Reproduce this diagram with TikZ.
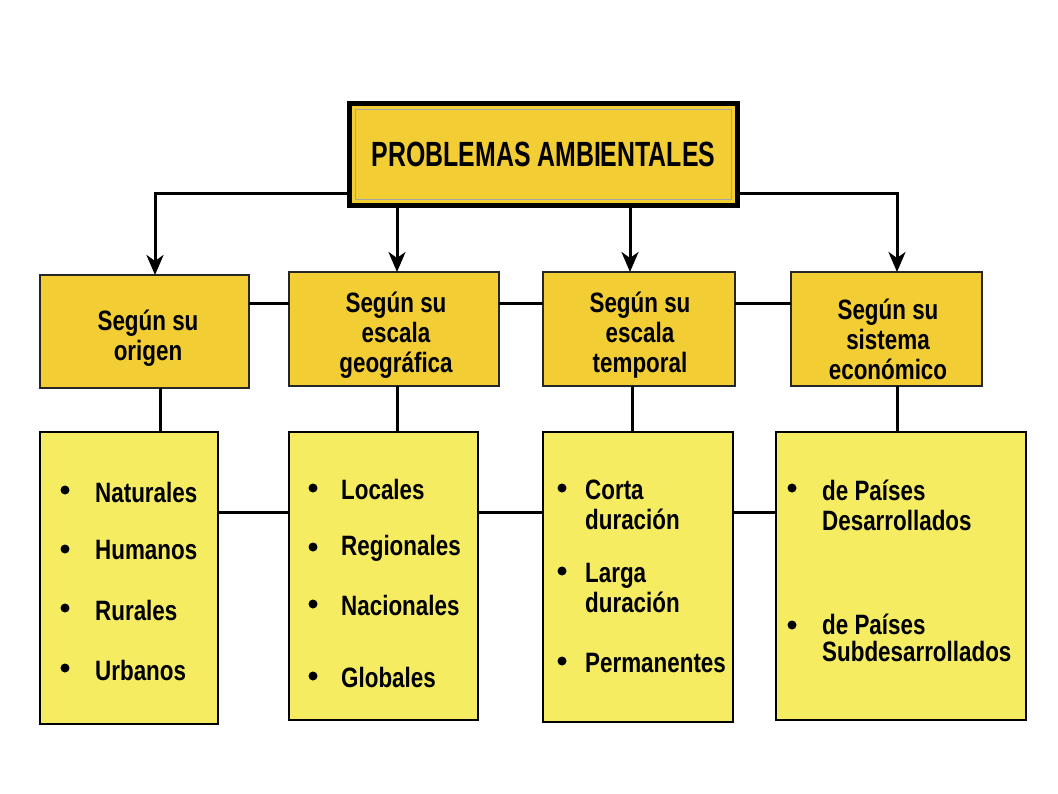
\documentclass[tikz,border=0pt]{standalone}
\usepackage{fontspec}
\setmainfont{Liberation Sans}[FakeStretch=0.8]
\newfontfamily\topfont{Liberation Sans}[FakeStretch=0.71]
\usetikzlibrary{arrows.meta,calc}
\definecolor{gold}{RGB}{242,205,52}
\definecolor{pale}{RGB}{245,236,98}
\begin{document}
\begin{tikzpicture}[x=1pt,y=-1pt,
  topbox/.style={draw=black,line width=5pt,fill=gold,minimum width=388pt,minimum height=102pt,inner sep=0pt,outer sep=0pt,
     font=\topfont\bfseries\fontsize{35}{37}\selectfont},
  midbox/.style={draw=black!85,line width=1.5pt,fill=gold,inner sep=0pt,outer sep=0pt},
  midtext/.style={inner sep=0pt,align=center,font=\bfseries\fontsize{28}{30}\selectfont},
  lowbox/.style={draw=black,line width=2pt,fill=pale,inner sep=0pt,outer sep=0pt},
  item/.style={anchor=west,inner sep=0pt,align=left,font=\bfseries\fontsize{28}{30}\selectfont},
  bul/.style={circle,fill=black,minimum size=9pt,inner sep=0pt},
  link/.style={line width=3pt,black},
  arr/.style={line width=3pt,black,-{Stealth[length=20pt,width=17pt,inset=6pt]}}]
\useasboundingbox[fill=white] (0,0) rectangle (1058,793);

% top box
\node[topbox] (top) at (543.5,154.5) {PROBLEMAS AMBIENTALES};
\draw[gray!70,line width=1pt] ($(top.north west)+(6,6)$) rectangle ($(top.south east)+(-6,-6)$);

% middle boxes
\node[midbox,minimum width=209pt,minimum height=113pt] (m1) at (144.5,331.5) {};
\node[midbox,minimum width=210pt,minimum height=114pt] (m2) at (394,329) {};
\node[midbox,minimum width=192pt,minimum height=114pt] (m3) at (639,329) {};
\node[midbox,minimum width=191pt,minimum height=114pt] (m4) at (886.5,329) {};
\node[midtext] (m1t) at (148,338) {Según su\\origen};
\node[midtext] (m2t) at (396,335) {Según su\\escala\\geográfica};
\node[midtext] (m3t) at (640,335) {Según su\\escala\\temporal};
\node[midtext] (m4t) at (888,339) {Según su\\sistema\\económico};

% lower boxes
\node[lowbox,minimum width=178pt,minimum height=292pt] (l1) at (129,578) {};
\node[lowbox,minimum width=189pt,minimum height=288pt] (l2) at (383.5,576) {};
\node[lowbox,minimum width=190pt,minimum height=290pt] (l3) at (638,577) {};
\node[lowbox,minimum width=250pt,minimum height=288pt] (l4) at (901,576) {};

% arrows from top
\coordinate (tl) at (155,193);
\coordinate (tr) at (897,193);
\draw[arr] (top.west |- tl) -- (tl) -- (tl |- m1.north);
\draw[arr] (top.east |- tr) -- (tr) -- (tr |- m4.north);
\coordinate (a2) at (397,0);
\coordinate (a3) at (630,0);
\draw[arr] (a2 |- top.south) -- (a2 |- m2.north);
\draw[arr] (a3 |- top.south) -- (a3 |- m3.north);

% middle horizontal links
\coordinate (hm) at (0,303);
\draw[link] (m1.east |- hm) -- (m2.west |- hm);
\draw[link] (m2.east |- hm) -- (m3.west |- hm);
\draw[link] (m3.east |- hm) -- (m4.west |- hm);

% vertical links middle -> lower
\coordinate (v1) at (160,0);
\coordinate (v2) at (397,0);
\coordinate (v3) at (632,0);
\coordinate (v4) at (897,0);
\draw[link] (v1 |- m1.south) -- (v1 |- l1.north);
\draw[link] (v2 |- m2.south) -- (v2 |- l2.north);
\draw[link] (v3 |- m3.south) -- (v3 |- l3.north);
\draw[link] (v4 |- m4.south) -- (v4 |- l4.north);

% lower horizontal links
\coordinate (hl) at (0,512);
\draw[link] (l1.east |- hl) -- (l2.west |- hl);
\draw[link] (l2.east |- hl) -- (l3.west |- hl);
\draw[link] (l3.east |- hl) -- (l4.west |- hl);

% items box 1
\node[bul] (b11) at (65,490) {};
\node[item] (t11) at (95,492) {Naturales};
\node[bul] (b12) at (65,549) {};
\node[item] (t12) at (95,550) {Humanos};
\node[bul] (b13) at (65,608) {};
\node[item] (t13) at (95,610) {Rurales};
\node[bul] (b14) at (65,668) {};
\node[item] (t14) at (95,670) {Urbanos};

% items box 2
\node[bul] (b21) at (313,488) {};
\node[item] (t21) at (341,489) {Locales};
\node[bul] (b22) at (313,547) {};
\node[item] (t22) at (341,548) {Regionales};
\node[bul] (b23) at (313,604) {};
\node[item] (t23) at (341,605) {Nacionales};
\node[bul] (b24) at (313,676) {};
\node[item] (t24) at (341,677) {Globales};

% items box 3
\node[bul] (b31) at (562,488) {};
\node[item] (t31) at (585,505) {Corta\\duración};
\node[bul] (b32) at (562,571) {};
\node[item] (t32) at (585,588) {Larga\\duración};
\node[bul] (b33) at (562,661) {};
\node[item] (t33) at (585,663) {Permanentes};

% items box 4
\node[bul] (b41) at (792,488) {};
\node[item] (t41) at (822,505) {de Países\\Desarrollados};
\node[bul] (b42) at (792,625) {};
\node[item,font=\bfseries\fontsize{28}{27}\selectfont] (t42) at (822,638) {de Países\\Subdesarrollados};
\end{tikzpicture}
\end{document}
